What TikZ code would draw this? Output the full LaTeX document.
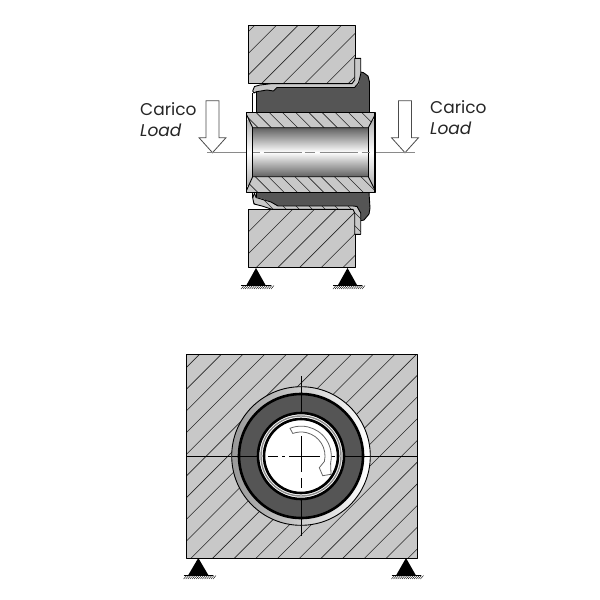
\documentclass[tikz,border=0pt]{standalone}
\usepackage{fontspec}
\setmainfont{Poppins}
\definecolor{hatchfill}{HTML}{C8C8C8}
\definecolor{rubber}{HTML}{555555}
\definecolor{axisgray}{HTML}{8A8A8A}
\tikzset{
  outline/.style={draw=black,line width=0.9pt,line join=round},
  thickline/.style={draw=black,line width=1.4pt,line join=round},
  hatchline/.style={draw=black!85,line width=0.6pt},
  loadarrow/.style={fill=white,draw=black!70,line width=0.8pt,line join=miter},
  label/.style={font=\fontsize{17}{20}\selectfont,anchor=west,text=black!85,inner sep=0pt},
  axisline/.style={draw=axisgray,line width=1pt},
  centerline/.style={draw=black,line width=0.6pt},
  groundhatch/.style={draw=black,line width=0.4pt}
}
\newcommand{\hatchall}[2]{\foreach \k in {0,...,70}{\draw[hatchline] ({#1+\k*#2},700) -- ({#1+\k*#2+800},-100);}}
\newcommand{\hatchback}[2]{\foreach \k in {0,...,40}{\draw[hatchline] ({#1+\k*#2},100) -- ({#1+\k*#2+150},250);}}
\newcommand{\supportmark}[4]{%
  \fill[black] (#1,#2) -- (#1+#3,#2+17) -- (#1-#3,#2+17) -- cycle;
  \draw[black,line width=0.5pt] (#1-#4,#2+17) -- (#1+#4,#2+17);
  \foreach \q in {0,...,14}{\draw[groundhatch] ({#1-#4+\q*2*#4/14},#2+21) -- ({#1-#4+\q*2*#4/14+3},#2+17.5);}
}
\newcommand{\loadsym}[1]{%
  \draw[loadarrow] (#1-6.5,100.7) -- (#1+6.5,100.7) -- (#1+6.5,137.7) -- (#1+13.5,137.7) -- (#1,152.7) -- (#1-13.5,137.7) -- (#1-6.5,137.7) -- cycle;
}
\newcommand{\uppershell}{(252.7,91) -- (254.5,86.5) -- (260,85) -- (272,83.6) -- (352,83.6) -- (354.7,80) -- (354.7,58.3) -- (360.7,58.3) -- (360.7,74) -- (358.5,83) -- (354.5,87.5) -- (277,87.5) -- (273.5,91) -- (267,90) -- (256.5,91.7) -- (254,93) -- cycle}
\newcommand{\lowershell}{(252.7,198) -- (254.5,193) -- (256,197.5) -- (266,200.5) -- (271,202) -- (278,206) -- (353,206) -- (357,206.5) -- (360.7,213) -- (360.7,234.3) -- (354.7,234.3) -- (354.7,213) -- (353,209.3) -- (272,209.3) -- (262,206) -- (254,204) -- cycle}
\begin{document}
\begin{tikzpicture}[x=1pt,y=-1pt]
\useasboundingbox (0,0) rectangle (600,600);
\fill[white] (0,0) rectangle (600,600);

% ---------- upper view: blocks ----------
\begin{scope}
\clip (248,25) rectangle (355,83.3);
\fill[hatchfill] (248,25) rectangle (355,83.3);
\hatchall{-420}{21.7}
\end{scope}
\draw[outline] (248,25) rectangle (355,83.3);
\begin{scope}
\clip (248,209.3) rectangle (355,267.3);
\fill[hatchfill] (248,209.3) rectangle (355,267.3);
\hatchall{-415}{21.7}
\end{scope}
\draw[outline] (248,209.3) rectangle (355,267.3);

% rubber
\fill[rubber] (256,112.5) -- (256,92) -- (272,89) -- (278,88) -- (354,88) -- (359,84) -- (360.7,72) -- (363.5,72.7) -- (368,76) -- (369.5,82) -- (369.5,112.5) -- cycle;
\draw[outline] (360.7,72) -- (363.5,72.7) -- (368,76) -- (369.5,82) -- (369.5,112.5);
\draw[outline] (256,112.5) -- (256,92);
\fill[rubber] (256,192.5) -- (256,197) -- (266,200) -- (272,202.5) -- (278,206.5) -- (354,206.5) -- (359,209) -- (360.7,220.7) -- (364,220) -- (369,214) -- (370,208) -- (369,192.5) -- cycle;
\draw[outline] (360.7,220.7) -- (364,220) -- (369,214) -- (370,208) -- (369,192.5);
\draw[outline] (256,192.5) -- (256,197);

% shell
\begin{scope}
\clip \uppershell;
\fill[hatchfill] (240,50) rectangle (370,100);
\hatchback{-60}{13}
\end{scope}
\draw[outline] \uppershell;
\begin{scope}
\clip \lowershell;
\fill[hatchfill] (240,185) rectangle (370,240);
\hatchback{60}{13}
\end{scope}
\draw[outline] \lowershell;
\draw[outline] (252.7,93) -- (252.7,112.5);
\draw[outline] (252.7,192.5) -- (252.7,198);

% pin bore
\shade[top color=black!62,bottom color=black!62,middle color=white] (252.7,127.7) rectangle (368.3,176.7);
\shade[top color=black!30,bottom color=black!30,middle color=white] (246.7,120) rectangle (252.7,185);
\shade[top color=black!30,bottom color=black!30,middle color=white] (368.3,120) rectangle (375,185);
% pin walls
\begin{scope}
\clip (246.7,112.3) -- (375,112.3) -- (375,115) -- (368.3,127.7) -- (252.7,127.7) -- (246.7,115) -- cycle;
\fill[hatchfill] (240,110) rectangle (380,130);
\hatchback{-60}{13.2}
\end{scope}
\draw[outline] (246.7,115) -- (252.7,127.7) -- (368.3,127.7) -- (375,115);
\begin{scope}
\clip (246.7,192.7) -- (375,192.7) -- (375,190) -- (368.3,176.7) -- (252.7,176.7) -- (246.7,190) -- cycle;
\fill[hatchfill] (240,175) rectangle (380,195);
\hatchback{-125}{13.2}
\end{scope}
\draw[outline] (246.7,190) -- (252.7,176.7) -- (368.3,176.7) -- (375,190);
\draw[outline] (252.7,127.7) -- (252.7,176.7);
\draw[outline] (368.3,127.7) -- (368.3,176.7);
\draw[thickline] (246.7,112.3) rectangle (375,192.7);
% bore centre line
\draw[axisline,dash pattern=on 7pt off 4pt on 38pt off 3pt on 10pt off 5pt on 38pt off 4pt on 8pt off 10pt] (252.7,152.7) -- (370,152.7);

% load arrows and axis
\loadsym{212.5}
\loadsym{405}
\draw[axisline] (207,152.7) -- (246,152.7);
\draw[axisline] (376,152.7) -- (415,152.7);

% labels
\node[label] (caricoL) at (140,109.5) {Carico};
\node[label] (loadL) at (140,130) {\itshape Load};
\node[label] (caricoR) at (430,107) {Carico};
\node[label] (loadR) at (430,128) {\itshape Load};

% supports upper
\supportmark{256}{268}{9.5}{15}
\supportmark{347.5}{268}{9.5}{14.5}

% ---------- lower view ----------
\begin{scope}
\clip (186,354) rectangle (417.3,558);
\fill[hatchfill] (186,354) rectangle (417.3,558);
\hatchall{-515}{21.7}
\end{scope}
\draw[outline] (186,354) rectangle (417.3,558);
\draw[centerline] (186,456) -- (417.3,456);
\draw[centerline] (301,376) -- (301,536);
% rings
\shade[left color=black!40,right color=white,even odd rule] (301,456) circle[radius=69.3pt] (301,456) circle[radius=62pt];
\draw[outline] (301,456) circle[radius=69.3pt];
\fill[rubber] (301,456) circle[radius=62pt];
\draw[black,line width=2.6pt] (301,456) circle[radius=62pt];
\fill[white] (301,456) circle[radius=43pt];
\draw[black,line width=2.6pt] (301,456) circle[radius=43pt];
\draw[black!45,line width=1.4pt] (301,456) circle[radius=40pt];
\draw[black,line width=2.6pt] (301,456) circle[radius=37pt];
% axis ticks over the rings
\draw[centerline] (301,387) -- (301,413);
\draw[centerline] (301,499) -- (301,525);
\draw[centerline] (232,456) -- (258,456);
\draw[centerline] (344,456) -- (370,456);
% centre marks in the bore
\draw[centerline,dash pattern=on 10pt off 4pt on 3pt off 4pt on 31pt off 5pt on 10pt] (268,456) -- (335,456);
\draw[centerline,dash pattern=on 36pt off 6pt on 10pt] (301,436) -- (301,488);
% rotation arrow
\draw[draw=black!60,fill=white,line width=0.8pt,line join=miter]
  (290,428.3) arc[start angle=111.7,end angle=-13,radius=30.2pt]
  -- (331,474.3) -- (322.7,475.7) -- (319.3,467.7) -- (324.4,461.4)
  arc[start angle=-13,end angle=110,radius=24pt] -- cycle;

% supports lower
\supportmark{198.3}{558}{10}{14.7}
\supportmark{406}{558}{9.7}{14.5}
\end{tikzpicture}
\end{document}
